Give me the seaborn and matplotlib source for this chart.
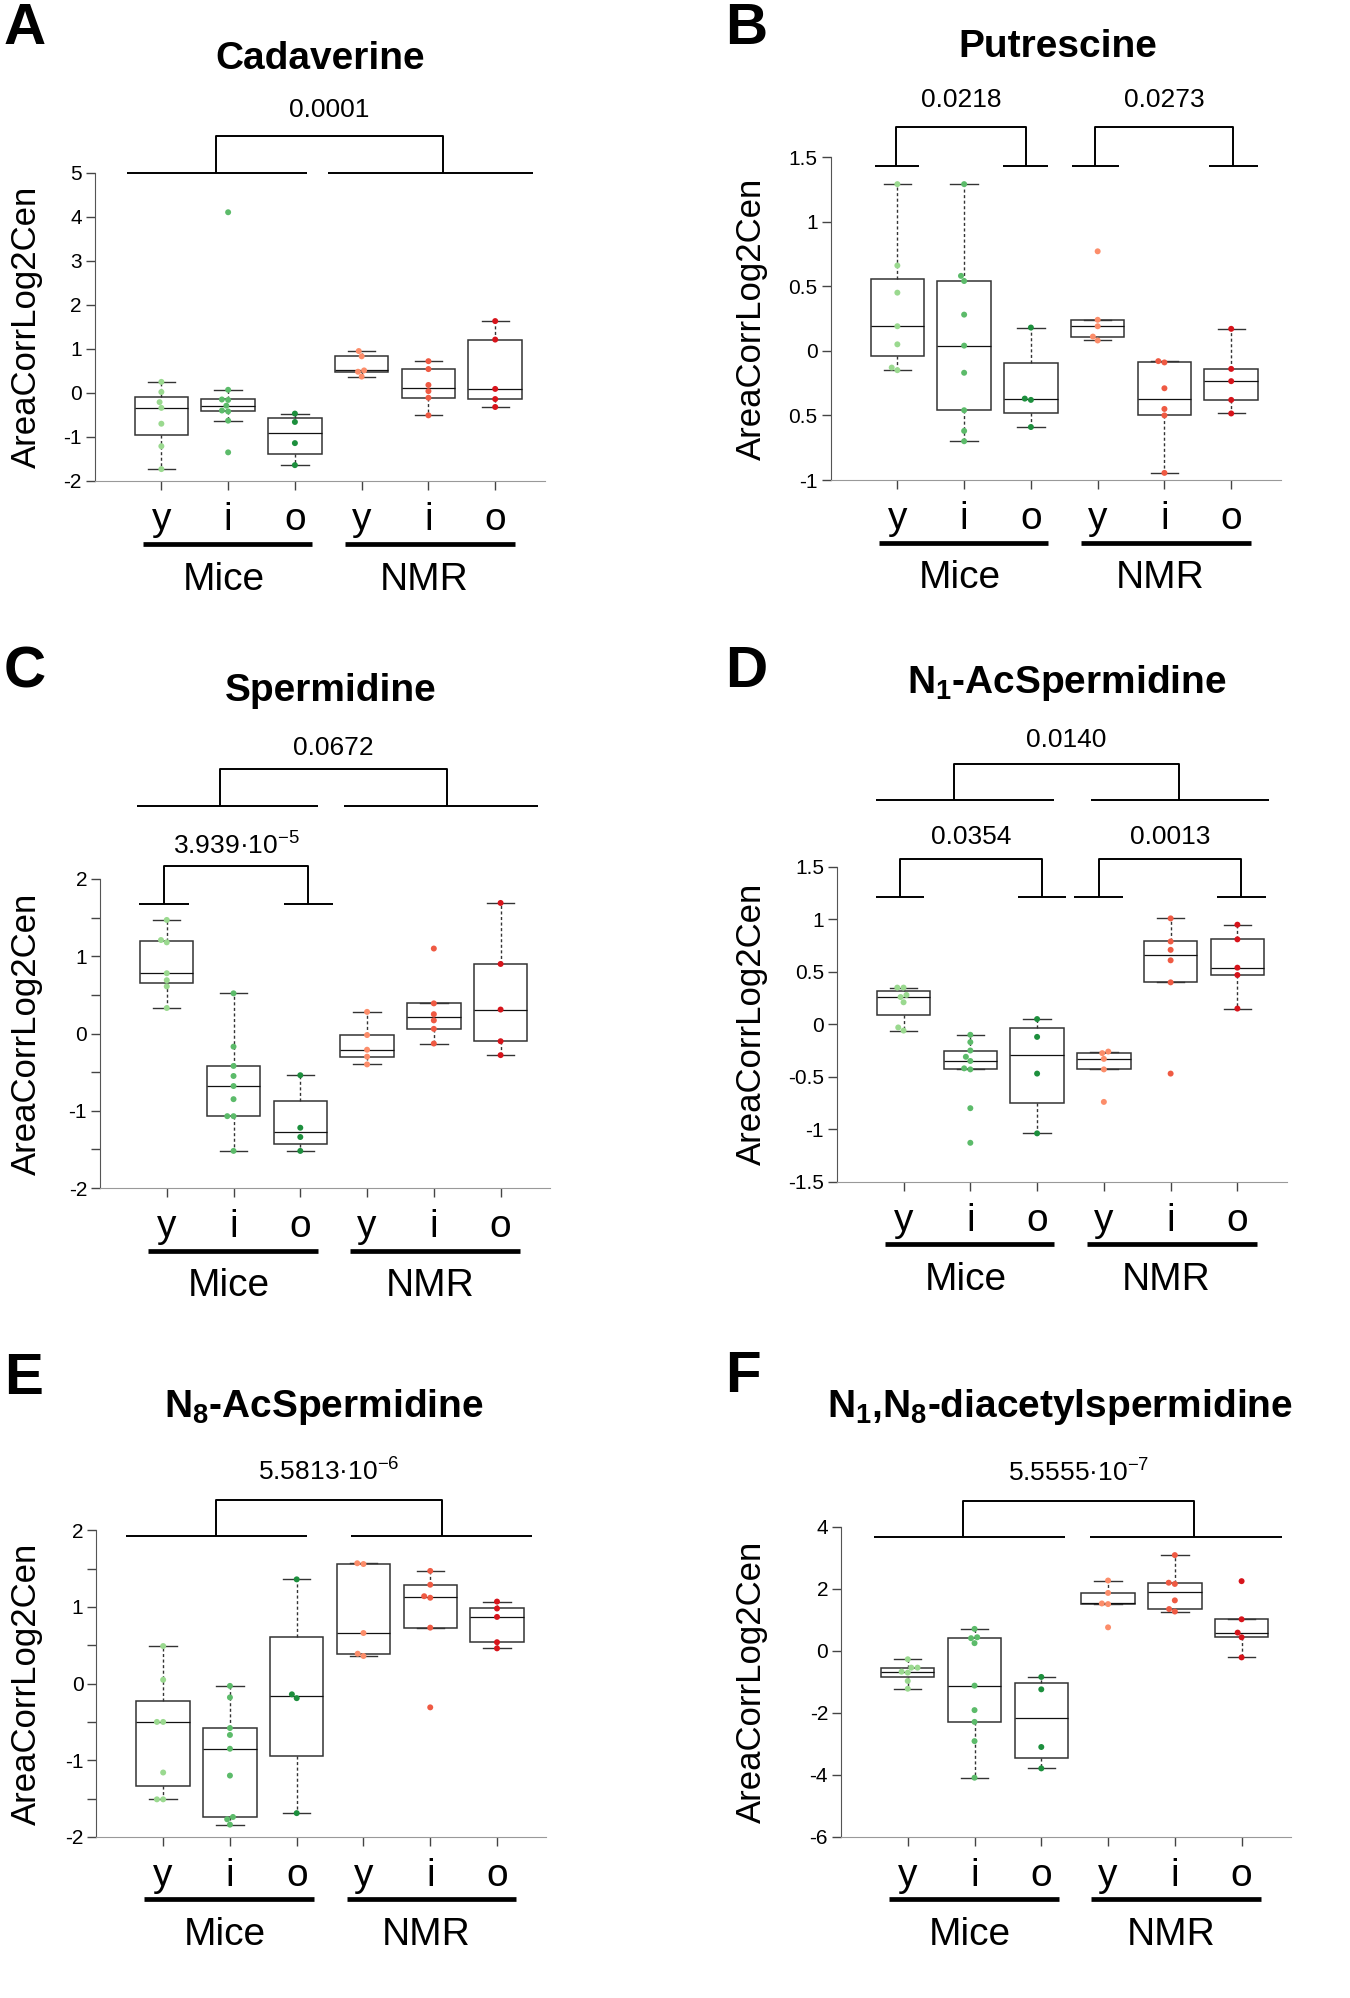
import numpy as np
import pandas as pd
import matplotlib
matplotlib.use("Agg")
import matplotlib.pyplot as plt
import matplotlib.transforms as mtransforms
import seaborn as sns

# groups in plotting order and their point colours
groups = ["Mice y", "Mice i", "Mice o", "NMR y", "NMR i", "NMR o"]
ages = ["y", "i", "o", "y", "i", "o"]
colors = ["#9ad98f", "#5cbb6a", "#1d8f3d", "#fc8d6a", "#ef5a43", "#d7141b"]

# values read per group (Mice y, Mice i, Mice o, NMR y, NMR i, NMR o)
cadaverine = [
    [0.25, 0.02, -0.21, -0.34, -0.70, -1.21, -1.73],
    [4.10, 0.07, -0.15, -0.16, -0.29, -0.40, -0.42, -0.63, -1.35],
    [-0.47, -0.66, -1.14, -1.64],
    [0.95, 0.83, 0.51, 0.48, 0.37],
    [0.72, 0.54, 0.18, 0.04, -0.11, -0.51],
    [1.63, 1.21, 0.09, -0.14, -0.32],
]
putrescine = [
    [1.29, 0.66, 0.45, 0.19, 0.05, -0.13, -0.15],
    [1.29, 0.58, 0.54, 0.28, 0.04, -0.17, -0.46, -0.62, -0.70],
    [0.18, -0.37, -0.38, -0.59],
    [0.77, 0.24, 0.19, 0.11, 0.08],
    [-0.08, -0.09, -0.29, -0.45, -0.50, -0.945],
    [0.17, -0.14, -0.235, -0.38, -0.485],
]
spermidine = [
    [1.47, 1.21, 1.18, 0.78, 0.69, 0.61, 0.33],
    [0.52, -0.17, -0.42, -0.55, -0.68, -0.85, -1.07, -1.07, -1.52],
    [-0.54, -1.22, -1.34, -1.52],
    [0.28, -0.02, -0.21, -0.30, -0.40],
    [1.10, 0.39, 0.25, 0.17, 0.06, -0.13],
    [1.69, 0.90, 0.31, -0.10, -0.28],
]
n1_acspermidine = [
    [0.35, 0.35, 0.28, 0.26, 0.21, -0.03, -0.06],
    [-0.10, -0.17, -0.25, -0.31, -0.35, -0.42, -0.43, -0.80, -1.13],
    [0.05, -0.12, -0.47, -1.04],
    [-0.26, -0.275, -0.33, -0.43, -0.74],
    [1.01, 0.79, 0.71, 0.61, 0.40, -0.47],
    [0.95, 0.81, 0.54, 0.47, 0.15],
]
n8_acspermidine = [
    [0.49, 0.05, -0.50, -0.50, -1.16, -1.51, -1.51],
    [-0.03, -0.18, -0.58, -0.67, -0.85, -1.20, -1.74, -1.77, -1.84],
    [1.36, -0.14, -0.19, -1.69],
    [1.57, 1.56, 0.66, 0.39, 0.36],
    [1.47, 1.29, 1.14, 1.12, 0.73, -0.31],
    [1.07, 0.98, 0.87, 0.54, 0.46],
]
diacetylspermidine = [
    [-0.27, -0.54, -0.54, -0.67, -0.70, -0.97, -1.22],
    [0.71, 0.44, 0.41, 0.25, -1.12, -1.91, -2.29, -2.91, -4.09],
    [-0.84, -1.24, -3.10, -3.79],
    [2.27, 1.87, 1.53, 1.51, 0.76],
    [3.09, 2.20, 2.16, 1.63, 1.35, 1.27],
    [2.25, 1.02, 0.59, 0.44, -0.21],
]

plt.rcParams["font.family"] = ["Liberation Sans", "DejaVu Sans"]
plt.rcParams["mathtext.fontset"] = "custom"
plt.rcParams["mathtext.rm"] = "Liberation Sans"
plt.rcParams["mathtext.bf"] = "Liberation Sans:bold"
plt.rcParams["mathtext.it"] = "Liberation Sans:italic"

W, H = 1350, 1998
fig = plt.figure(figsize=(W / 100, H / 100), dpi=100)


def half_ticks(lo, hi):
    ticks = np.arange(lo, hi + 0.01, 0.5)
    labels = [str(int(t)) if t == int(t) else "" for t in ticks]
    return ticks, labels


def tukey_stats(vals):
    # box statistics with Tukey hinges (five number summary) like R's boxplot
    x = np.sort(np.asarray(vals, dtype=float))
    n = len(x)
    n4 = np.floor((n + 3) / 2) / 2
    d = np.array([1, n4, (n + 1) / 2, n + 1 - n4, n]) - 1
    fn = 0.5 * (x[np.floor(d).astype(int)] + x[np.ceil(d).astype(int)])
    iqr = fn[3] - fn[1]
    inside = x[(x >= fn[1] - 1.5 * iqr) & (x <= fn[3] + 1.5 * iqr)]
    return dict(med=fn[2], q1=fn[1], q3=fn[3],
                whislo=inside.min(), whishi=inside.max(), fliers=[])


panels = [
    dict(letter="A", letter_xy=(4, 44), title="Cadaverine", title_xy=(320, 69),
         values=cadaverine, box=(94.6, 172.6, 481), ylim=(-2, 5),
         yticks=list(range(-2, 6)), ylabels=[str(v) for v in range(-2, 6)], ylab_x=43,
         brackets=[((-0.52, 2.18), (2.49, 5.57), (0.825, 4.215), 5.0, 5.84, "0.0001", 6.27)]),
    dict(letter="B", letter_xy=(725, 44), title="Putrescine", title_xy=(1058, 57),
         values=putrescine, box=(830.6, 157, 480), ylim=(-1, 1.5),
         yticks=[-1, -0.5, 0, 0.5, 1, 1.5], ylabels=["-1", "0.5", "0", "0.5", "1", "1.5"], ylab_x=768,
         brackets=[((-0.34, 0.32), (1.58, 2.25), (-0.02, 1.92), 1.428, 1.73, "0.0218", 1.884),
                   ((2.61, 3.32), (4.67, 5.40), (2.96, 5.03), 1.428, 1.73, "0.0273", 1.884)]),
    dict(letter="C", letter_xy=(4, 687), title="Spermidine", title_xy=(331, 701),
         values=spermidine, box=(100, 879, 1188), ylim=(-2, 2),
         yticks=half_ticks(-2, 2)[0], ylabels=half_ticks(-2, 2)[1], ylab_x=43,
         brackets=[((-0.45, 2.26), (2.65, 5.56), (0.80, 4.19), 2.94, 3.42, "0.0672", 3.605),
                   ((-0.41, 0.33), (1.75, 2.49), (-0.04, 2.12), 1.68, 2.17, "3.939·10$^{-5}$", 2.32)]),
    dict(letter="D", letter_xy=(725, 687), title=r"N$_{\mathbf{1}}$-AcSpermidine", title_xy=(1067, 693),
         values=n1_acspermidine, box=(836.8, 867, 1181.6), ylim=(-1.5, 1.5),
         yticks=[-1.5, -1, -0.5, 0, 0.5, 1, 1.5], ylabels=["-1.5", "-1", "-0.5", "0", "0.5", "1", "1.5"],
         ylab_x=768,
         brackets=[((-0.42, 0.31), (1.71, 2.44), (-0.06, 2.08), 1.21, 1.574, "0.0354", 1.72),
                   ((2.56, 3.29), (4.70, 5.43), (2.92, 5.06), 1.21, 1.574, "0.0013", 1.72),
                   ((-0.42, 2.25), (2.81, 5.48), (0.76, 4.12), 2.14, 2.485, "0.0140", 2.64)]),
    dict(letter="E", letter_xy=(4, 1394), title=r"N$_{\mathbf{8}}$-AcSpermidine", title_xy=(324, 1417),
         values=n8_acspermidine, box=(96.4, 1530.3, 1836.9), ylim=(-2, 2),
         yticks=half_ticks(-2, 2)[0], ylabels=half_ticks(-2, 2)[1], ylab_x=43,
         brackets=[((-0.56, 2.15), (2.82, 5.52), (0.785, 4.17), 1.93, 2.40, "5.5813·10$^{-6}$", 2.65)]),
    dict(letter="F", letter_xy=(725, 1392), title=r"N$_{\mathbf{1}}$,N$_{\mathbf{8}}$-diacetylspermidine",
         title_xy=(1060, 1417),
         values=diacetylspermidine, box=(841, 1526.9, 1836.9), ylim=(-6, 4),
         yticks=[-6, -4, -2, 0, 2, 4], ylabels=["-6", "-4", "-2", "0", "2", "4"], ylab_x=768,
         brackets=[((-0.51, 2.35), (2.73, 5.61), (0.83, 4.28), 3.69, 4.85, "5.5555·10$^{-7}$", 5.45)]),
]


def below(ax, px):
    # x in data units, y shifted px pixels under the x axis
    return (mtransforms.blended_transform_factory(ax.transData, ax.transAxes)
            + mtransforms.ScaledTranslation(0, -px / 100, fig.dpi_scale_trans))


def bracket(ax, seg1, seg2, legs, y0, y1, label, ytxt):
    kw = dict(color="black", lw=1.4, clip_on=False, solid_capstyle="butt")
    ax.plot(seg1, [y0, y0], **kw)
    ax.plot(seg2, [y0, y0], **kw)
    ax.plot([legs[0], legs[0], legs[1], legs[1]], [y0, y1, y1, y0], **kw)
    ax.text(sum(legs) / 2, ytxt, label, ha="center", va="baseline", fontsize=19)


for p in panels:
    left, top, bottom = p["box"]
    ax = fig.add_axes([left / W, 1 - bottom / H, 450 / W, (bottom - top) / H])

    df = pd.DataFrame({
        "group": np.repeat(groups, [len(v) for v in p["values"]]),
        "value": np.concatenate(p["values"]),
    })

    sns.swarmplot(data=df, x="group", y="value", hue="group", order=groups,
                  hue_order=groups, palette=colors, size=4.3, ax=ax,
                  legend=False, zorder=3)
    ax.bxp([tukey_stats(v) for v in p["values"]], positions=range(6),
           widths=0.8, capwidths=0.41, patch_artist=True, showfliers=False,
           manage_ticks=False,
           boxprops=dict(facecolor="white", edgecolor="#333333", linewidth=1.1),
           medianprops=dict(color="#111111", linewidth=0.9, solid_capstyle="butt"),
           whiskerprops=dict(color="#333333", linewidth=1.0, linestyle=(0, (2.2, 1.8))),
           capprops=dict(color="#333333", linewidth=1.0))

    ax.set_xlim(-1, 5.74)
    ax.set_ylim(*p["ylim"])
    ax.set_xticks(range(6))
    ax.set_xticklabels(ages, fontsize=28)
    ax.set_yticks(p["yticks"])
    ax.set_yticklabels(p["ylabels"], fontsize=15)
    ax.set_xlabel("")
    ax.set_ylabel("AreaCorrLog2Cen", fontsize=25)
    ax.yaxis.set_label_coords((p["ylab_x"] - left) / 450, 0.5)

    for s in ["top", "right"]:
        ax.spines[s].set_visible(False)
    ax.spines["left"].set_color("#555555")
    ax.spines["bottom"].set_color("#999999")
    ax.tick_params(axis="both", direction="out", length=6.3, width=1.0,
                   color="#444444", left=True, bottom=True)
    ax.tick_params(axis="x", pad=9)
    ax.tick_params(axis="y", pad=3)

    # group underlines and labels
    ax.plot([-0.28, 2.26], [0, 0], transform=below(ax, 62.5), color="black",
            lw=3.4, solid_capstyle="butt", clip_on=False)
    ax.plot([2.75, 5.29], [0, 0], transform=below(ax, 62.5), color="black",
            lw=3.4, solid_capstyle="butt", clip_on=False)
    ax.text(0.93, 0, "Mice", transform=below(ax, 108.5), ha="center",
            va="baseline", fontsize=28)
    ax.text(3.94, 0, "NMR", transform=below(ax, 108.5), ha="center",
            va="baseline", fontsize=28)

    for b in p["brackets"]:
        bracket(ax, *b)

    lx, ly = p["letter_xy"]
    fig.text(lx / W, 1 - ly / H, p["letter"], fontsize=42, fontweight="bold",
             ha="left", va="baseline")
    tx, ty = p["title_xy"]
    fig.text(tx / W, 1 - ty / H, p["title"], fontsize=28, fontweight="bold",
             ha="center", va="baseline")

fig.savefig("out.png", dpi=100)
